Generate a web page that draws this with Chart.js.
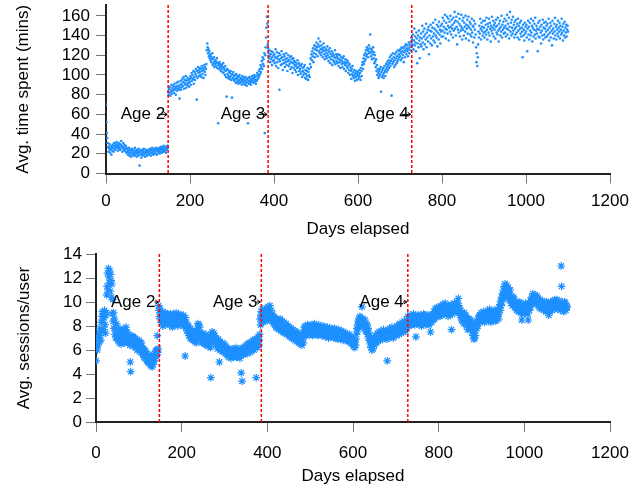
<!DOCTYPE html>
<html lang="en">
<head>
<meta charset="UTF-8" />
<title>Time spent and sessions by age</title>
<style>
  body { margin: 0; background: #fff; }
  .panel { width: 642px; height: 244px; }
  canvas { display: block; }
</style>
</head>
<body>
<div class="panel"><canvas id="timeChart" width="642" height="244"></canvas></div>
<div class="panel"><canvas id="sessionChart" width="642" height="244"></canvas></div>

<script src="https://cdn.jsdelivr.net/npm/chart.js"></script>
<script>
// one reading per day, day 0 .. day 1100 (25 days per row)
const dayStep = 1;

// avg. time spent (mins)
const timeSpent = [
  70,52,41,36,31,27,22,26,30,24,21,28,25,19,27,23,29,26,22,31,25,28,24,30,27,
  32,26,29,23,28,31,25,27,30,24,29,33,26,28,22,27,31,24,26,29,23,25,28,21,26,
  22,25,19,23,21,26,18,24,20,22,17,23,25,19,21,24,20,18,22,26,19,23,21,17,24,
  20,22,18,25,21,8,23,19,22,16,24,20,18,23,21,25,19,22,17,21,24,20,23,18,22,
  21,24,19,23,20,25,22,18,24,21,26,20,23,19,25,22,21,24,20,26,23,19,25,22,24,
  21,26,23,20,25,22,27,24,21,26,23,25,28,22,24,26,23,27,21,25,24,28,26,83,80,
  86,82,88,79,85,83,90,81,87,84,89,86,82,91,85,88,80,87,92,84,89,86,93,88,85,
  76,90,87,94,85,91,88,96,89,93,98,86,92,95,90,99,87,94,91,97,89,95,92,88,96,
  93,99,90,97,102,94,100,96,104,91,98,103,95,101,106,99,75,104,97,108,102,105,99,107,103,
  100,106,98,109,104,101,107,97,105,110,103,108,100,106,111,125,132,128,122,126,119,124,117,121,115,
  119,113,117,122,110,116,112,118,108,114,111,115,109,113,117,107,112,51,110,106,113,108,111,104,109,
  106,110,103,108,112,102,107,105,100,109,104,98,78,106,101,97,105,99,103,96,102,98,104,95,100,
  77,101,97,103,95,99,94,100,96,92,101,97,93,99,95,91,98,94,100,92,96,93,97,90,95,
  99,93,96,91,97,94,90,98,92,95,89,96,93,51,97,91,94,98,92,95,90,96,93,99,94,
  97,92,96,100,93,98,95,91,99,94,102,96,100,97,104,99,106,101,110,103,108,114,106,118,111,
  116,109,122,41,120,128,138,148,159,152,131,127,122,117,125,119,113,121,116,124,110,118,123,114,120,
  115,121,112,118,126,109,117,123,113,119,107,116,122,85,114,120,110,117,124,111,118,105,115,121,112,
  119,108,116,113,122,110,117,104,114,120,109,115,111,118,106,113,119,108,116,102,112,117,107,114,110,
  105,113,109,103,111,107,115,100,108,112,104,110,106,101,109,103,111,98,107,104,100,108,102,110,97,
  105,101,96,104,99,107,95,103,100,106,98,111,117,108,121,115,124,119,127,113,122,130,118,126,129,
  121,133,125,128,119,131,137,124,129,122,134,126,120,130,123,127,118,125,132,121,128,116,124,119,126,
  122,117,129,120,125,114,123,118,127,112,121,116,124,119,110,122,115,120,113,118,125,111,117,121,114,
  119,112,117,121,109,116,113,120,107,115,118,111,114,108,117,112,119,106,113,110,116,104,112,109,115,
  107,113,102,110,105,111,100,108,104,96,106,101,109,99,103,97,105,100,94,102,98,104,95,101,99,
  103,96,100,105,98,102,95,107,104,99,110,113,106,117,111,120,114,122,116,125,119,128,121,126,118,
  124,130,122,127,141,123,119,126,116,124,121,128,117,123,112,120,114,108,116,104,110,100,106,102,97,
  104,99,106,101,108,83,103,98,105,100,107,97,102,109,104,99,106,111,103,108,113,105,110,115,107,
  112,118,109,114,120,79,116,111,122,113,118,108,115,121,110,117,123,112,119,114,125,116,121,118,124,
  119,126,115,122,128,117,124,120,127,113,123,129,118,125,131,121,127,124,130,119,126,133,122,128,131,
  125,134,138,129,136,131,141,126,135,147,130,139,133,124,143,137,112,132,140,128,145,135,117,138,131,
  142,129,137,150,133,144,126,139,147,131,141,136,152,128,143,138,146,134,149,121,140,145,132,151,137,
  144,130,148,139,153,135,142,147,133,156,140,145,138,151,129,143,149,136,154,141,146,132,150,144,139,
  152,145,158,139,149,155,143,161,147,137,153,146,159,142,150,157,135,148,154,144,160,149,141,156,147,
  151,138,158,145,153,164,147,155,140,159,149,131,154,146,162,143,152,157,139,150,145,161,148,136,155,
  146,158,140,153,149,144,160,137,151,147,156,142,150,159,135,148,154,141,152,146,139,157,143,150,133,
  149,155,138,146,152,141,128,113,122,109,118,131,144,138,150,142,157,147,136,153,145,149,140,155,143,
  148,138,155,144,151,141,158,146,136,152,149,143,157,140,153,147,134,150,145,159,142,148,155,139,151,
  146,153,137,149,156,143,150,141,158,145,134,152,147,155,140,149,144,160,138,151,146,154,142,148,157,
  143,150,139,155,147,161,141,152,146,158,137,149,164,144,153,140,156,148,142,159,145,151,138,154,147,
  141,156,149,143,152,138,157,145,150,136,153,147,142,155,139,148,144,118,151,140,146,135,153,142,149,
  144,151,138,124,147,155,141,149,136,153,145,140,157,143,150,134,148,155,139,146,152,141,158,137,145,
  150,142,147,124,153,139,146,155,138,149,143,132,151,145,140,156,136,148,153,141,147,138,154,144,150,
  139,152,146,141,157,135,148,143,153,138,150,145,130,155,142,147,137,152,144,158,140,149,136,151,146,
  142,155,139,148,144,153,137,150,146,141,157,143,149,135,152,145,140,154,138,148,143,151,139,146,150,
  144
];

// avg. sessions per user
const sessions = [
  5.1,6.2,6.6,6.0,7.1,6.4,6.9,7.4,6.7,7.8,7.2,6.8,8.3,7.5,8.8,9.2,8.5,9.0,7.7,8.7,9.3,8.1,7.4,8.9,9.1,
  10.6,11.3,12.4,11.0,12.8,12.1,11.6,12.6,10.9,12.3,11.8,10.4,11.5,9.0,10.2,8.4,9.1,7.8,8.6,7.3,7.9,7.0,7.6,8.2,7.1,
  7.5,6.8,7.3,7.0,6.6,7.4,7.8,6.9,7.2,6.5,7.6,7.0,6.7,7.3,6.9,7.7,7.1,6.6,7.4,6.8,7.9,7.2,6.7,7.5,7.0,
  6.6,7.3,6.9,7.1,6.4,5.0,4.2,7.0,6.6,7.2,6.8,6.3,7.1,6.7,6.4,7.0,6.5,6.9,6.2,6.8,6.4,6.0,6.7,6.3,6.6,
  6.2,6.8,6.0,6.5,5.8,6.3,6.6,5.9,6.2,5.6,6.1,5.8,5.4,6.0,5.7,5.3,5.9,5.5,5.1,5.7,5.4,5.0,5.6,5.2,4.9,
  5.4,5.1,4.7,5.3,4.9,5.5,4.6,5.2,5.0,4.8,5.4,5.1,5.7,5.3,5.9,5.5,6.0,5.6,7.2,5.8,6.1,9.7,9.3,8.8,9.5,
  8.6,9.1,8.3,8.9,8.5,9.2,8.0,8.7,9.0,8.4,8.8,8.1,9.1,8.6,8.3,8.9,8.5,9.0,8.2,8.7,8.4,8.9,8.1,8.6,9.0,
  8.3,8.8,8.5,7.9,8.6,9.0,8.2,8.7,8.4,8.9,8.1,8.6,9.1,8.3,8.8,8.5,8.0,8.7,9.0,8.4,8.6,8.2,8.9,8.5,8.3,
  8.8,8.1,8.6,8.4,8.9,8.0,8.5,8.2,5.5,8.7,7.9,8.3,7.6,8.1,7.8,7.4,8.0,7.2,7.7,7.5,7.0,7.8,7.3,6.9,7.6,
  7.1,7.5,6.8,7.3,7.0,6.7,7.4,6.9,7.2,6.6,7.5,7.0,7.8,8.2,7.6,8.1,7.4,7.9,7.0,7.3,6.8,7.2,6.6,7.0,7.4,
  6.9,6.6,7.2,6.8,6.5,7.1,6.7,7.3,6.4,6.9,7.0,6.6,6.3,6.8,7.2,6.5,6.9,6.2,3.7,6.7,7.1,7.5,6.8,7.3,7.0,
  7.4,6.9,7.2,6.6,7.0,6.5,6.9,6.3,6.7,6.1,6.6,6.9,6.4,5.0,6.2,6.7,6.0,6.5,6.3,5.9,6.6,6.1,6.4,5.8,6.2,
  6.5,6.0,5.7,6.3,5.9,6.2,5.6,6.0,5.8,5.4,6.1,5.7,5.5,6.0,5.8,5.3,5.9,5.6,6.1,5.5,5.8,5.4,6.0,5.7,5.5,
  5.9,5.6,6.2,5.4,5.8,6.0,5.5,5.9,5.7,6.1,5.6,5.3,5.8,6.0,4.1,5.7,3.4,5.9,6.2,5.6,6.0,5.8,6.3,5.7,6.1,
  5.8,6.4,6.0,5.7,6.2,6.5,5.9,6.3,6.6,6.0,6.4,5.8,6.2,6.7,6.1,6.5,6.8,6.2,6.6,6.0,6.4,6.9,6.3,6.7,3.7,
  6.5,6.9,6.2,6.7,7.1,6.4,6.8,7.3,8.6,8.1,8.9,9.2,8.5,9.4,8.8,9.1,8.3,8.7,9.3,8.6,9.0,8.4,8.9,9.5,8.7,
  9.2,8.6,9.6,9.0,9.4,8.8,9.7,9.1,8.5,9.3,8.9,8.4,9.0,8.6,8.2,8.8,8.3,8.7,8.1,8.5,7.9,8.6,8.2,7.8,8.4,
  8.0,8.5,7.7,8.3,7.9,8.6,8.1,7.6,8.2,7.8,8.4,7.5,8.0,7.7,8.3,7.4,7.9,8.1,7.6,8.2,7.3,7.8,7.5,8.0,7.2,
  7.7,7.4,7.9,7.1,7.6,7.3,7.8,7.0,7.5,7.2,7.7,6.9,7.4,7.1,7.6,6.8,7.3,7.0,7.5,6.7,7.2,6.9,7.4,6.6,7.1,
  6.8,7.3,6.5,7.0,6.7,7.2,6.4,6.9,7.1,6.6,7.5,7.9,7.3,7.7,8.0,7.4,7.8,7.2,7.6,8.1,7.5,7.9,7.3,7.7,8.0,
  7.4,7.8,8.1,7.5,7.9,7.2,7.7,8.0,7.4,7.8,8.2,7.5,7.9,7.3,7.7,8.0,7.4,7.8,7.2,7.6,8.1,7.5,7.9,7.3,7.7,
  7.9,7.4,7.8,7.2,7.6,8.0,7.3,7.7,7.5,7.9,7.1,7.6,7.8,7.2,7.6,7.9,7.3,7.7,7.0,7.5,7.8,7.2,7.6,7.4,7.8,
  7.1,7.5,7.7,7.2,7.6,7.0,7.4,7.8,7.1,7.5,7.3,7.7,7.0,7.4,7.6,6.9,7.3,7.7,7.1,7.5,7.2,6.9,7.4,7.6,7.0,
  7.4,7.2,6.8,7.5,7.1,7.3,6.9,7.4,7.0,7.2,6.8,7.3,7.1,6.7,7.2,7.0,6.9,7.3,6.8,7.1,6.6,7.0,6.8,6.5,6.9,
  6.6,6.3,6.8,6.5,6.2,6.7,6.4,6.9,7.3,7.8,7.5,8.1,8.4,7.9,8.6,8.2,8.8,8.3,8.7,8.0,8.5,9.6,8.2,8.6,7.9,
  8.4,8.1,7.8,8.5,7.6,8.2,7.9,7.5,8.1,7.3,7.8,7.0,7.5,6.8,7.2,6.5,6.9,6.2,6.7,6.0,6.5,6.8,6.1,6.6,7.0,
  6.4,6.9,7.2,6.7,7.1,6.6,7.0,7.4,6.8,7.2,6.9,7.5,7.0,7.3,6.8,7.2,7.6,7.0,7.4,6.9,7.3,7.7,7.1,7.5,7.0,
  7.4,7.1,7.6,7.2,6.9,5.1,7.3,7.7,7.0,7.5,7.2,7.8,7.3,7.1,7.6,7.4,7.9,7.2,7.6,7.0,7.5,7.8,7.3,7.7,7.4,
  7.8,7.2,7.6,8.0,7.4,7.9,7.5,8.1,7.3,7.7,8.2,7.6,8.0,7.4,7.9,8.3,7.7,8.1,7.5,8.0,8.4,7.8,8.2,7.6,8.1,
  8.5,7.9,8.3,8.8,8.2,8.6,8.0,8.4,8.9,8.3,8.7,8.1,8.5,8.8,8.2,8.6,9.0,8.4,8.7,8.1,8.5,8.9,7.1,8.3,8.7,
  8.2,8.6,8.9,8.4,8.8,8.1,8.5,8.9,8.3,8.7,8.0,8.4,8.8,8.2,8.6,9.0,8.5,8.9,8.3,8.7,8.1,8.5,8.8,8.2,8.6,
  8.9,8.4,8.7,8.1,8.5,8.8,7.5,8.6,8.9,8.3,8.7,9.0,8.5,8.8,9.2,8.6,9.0,9.4,8.7,9.1,9.5,8.9,9.3,8.8,9.2,
  9.6,9.0,9.4,8.8,9.3,9.7,9.1,9.5,8.9,9.3,9.8,9.2,9.6,9.0,9.4,9.9,9.3,9.7,9.1,9.5,9.0,9.4,8.8,9.3,9.7,
  9.1,9.5,8.9,9.3,9.8,7.7,9.4,9.0,9.6,9.2,9.7,9.3,9.9,9.4,9.8,9.2,9.6,10.0,9.5,9.9,9.3,10.3,9.7,9.1,9.5,
  8.9,9.3,8.7,9.1,8.5,9.0,8.4,8.8,8.2,8.7,9.1,8.5,8.9,8.3,8.8,8.0,8.6,8.2,7.7,8.5,8.1,8.6,7.9,8.4,8.0,
  8.5,7.8,8.3,7.5,8.0,7.2,7.7,6.9,7.4,7.0,7.6,7.2,7.9,8.2,7.8,8.4,8.0,8.6,8.2,8.8,8.4,8.9,8.5,8.7,9.1,
  8.6,9.0,8.4,8.8,9.2,8.5,8.9,8.3,8.7,9.1,8.6,9.0,8.4,8.8,9.3,8.7,9.1,8.5,8.9,9.4,8.6,9.0,8.3,8.8,9.2,
  8.7,9.1,8.5,8.9,9.3,8.6,9.0,8.4,8.8,9.2,8.5,8.9,9.4,8.8,9.2,8.6,9.0,9.5,9.8,9.3,10.1,9.7,10.4,10.0,10.7,
  10.3,11.0,10.6,11.3,10.8,11.5,10.4,11.1,10.7,11.4,10.9,10.5,11.2,10.6,10.2,10.8,10.4,11.0,10.3,9.9,10.5,10.1,9.7,10.3,9.9,
  10.4,9.8,10.2,9.6,10.0,9.5,9.9,9.3,9.7,9.4,9.8,9.2,9.6,10.0,9.4,9.9,9.3,9.7,9.1,8.5,9.5,9.0,9.4,9.8,9.2,
  9.6,9.1,9.5,9.9,9.3,9.7,9.2,9.6,9.0,8.5,9.4,9.8,9.3,9.7,10.1,9.6,10.0,10.4,9.9,10.3,10.7,10.1,10.5,9.9,10.3,
  10.6,10.0,10.4,9.8,10.2,10.5,9.9,10.3,9.7,10.1,9.5,9.9,10.2,9.6,10.0,9.4,9.8,10.1,9.5,9.9,9.3,9.7,10.0,9.4,9.8,
  9.2,9.6,10.0,9.5,9.9,9.3,9.7,8.9,9.4,9.8,9.2,9.6,10.0,9.5,9.9,9.3,9.7,10.1,9.6,9.4,9.8,10.2,9.6,9.9,9.5,
  9.8,10.2,9.6,10.0,9.4,9.8,10.1,9.5,9.9,9.3,9.7,13.0,11.3,9.6,10.0,9.4,9.8,9.2,9.6,10.0,9.5,9.9,9.3,9.7,9.5,
  9.6
];

const ageDays = [148, 386, 728];
const ageNames = ["Age 2", "Age 3", "Age 4"];

const xTicks = [0, 200, 400, 600, 800, 1000, 1200];
const timeTicks = [0, 20, 40, 60, 80, 100, 120, 140, 160];
const sessionTicks = [0, 2, 4, 6, 8, 10, 12, 14];

const family = '"Liberation Sans", Arial, Helvetica, sans-serif';
const blue = "#1E90FF";

function toPoints(values) {
  return values.map(function (v, i) {
    return { x: i * dayStep, y: v };
  });
}

// red dashed lines at each age change, with a label and a little arrow
const ageMarkers = {
  id: "ageMarkers",
  afterDatasetsDraw(chart, args, opts) {
    const ctx = chart.ctx;
    const area = chart.chartArea;
    const x = chart.scales.x;
    const y = chart.scales.y;
    const py = y.getPixelForValue(opts.labelY);

    ctx.save();
    for (let i = 0; i < ageDays.length; i++) {
      const px = x.getPixelForValue(ageDays[i]);

      ctx.strokeStyle = "#f00";
      ctx.lineWidth = 1.5;
      ctx.setLineDash([3, 2]);
      ctx.beginPath();
      ctx.moveTo(px, area.top);
      ctx.lineTo(px, area.bottom);
      ctx.stroke();

      ctx.setLineDash([]);
      ctx.fillStyle = "#000";
      ctx.font = opts.fontSize + "px " + family;
      ctx.textAlign = "right";
      ctx.textBaseline = "middle";
      ctx.fillText(ageNames[i], px - opts.textGap, py);

      ctx.strokeStyle = "#000";
      ctx.lineWidth = 1;
      ctx.beginPath();
      ctx.moveTo(px - opts.arrowLen, py);
      ctx.lineTo(px - 1, py);
      ctx.moveTo(px - 4, py - 2);
      ctx.lineTo(px - 1, py);
      ctx.lineTo(px - 4, py + 2);
      ctx.stroke();
    }
    ctx.restore();
  },
};

function plainNumber(v) {
  return String(v);
}

function makeChart(id, cfg) {
  const config = {
    type: "scatter",
    data: {
      datasets: [
        Object.assign({ data: toPoints(cfg.values), showLine: false }, cfg.marker),
      ],
    },
    options: {
      responsive: false,
      animation: false,
      devicePixelRatio: 1,
      events: [],
      layout: { padding: { top: cfg.padTop, right: 32, bottom: 0, left: 0 } },
      plugins: {
        legend: { display: false },
        tooltip: { enabled: false },
        ageMarkers: {
          labelY: cfg.labelY,
          textGap: cfg.textGap,
          arrowLen: cfg.arrowLen,
          fontSize: 17,
        },
      },
      scales: {
        x: {
          type: "linear",
          min: 0,
          max: 1200,
          afterBuildTicks: function (s) {
            s.ticks = xTicks.map(function (v) { return { value: v }; });
          },
          afterFit: function (s) {
            s.height = cfg.xHeight;
            s.paddingLeft = 0;
            s.paddingRight = 0;
          },
          border: { color: "#222", width: 2 },
          grid: { drawOnChartArea: false, tickLength: 10, tickColor: "#777", tickWidth: 1 },
          ticks: {
            color: "#000",
            autoSkip: false,
            maxRotation: 0,
            padding: cfg.xTickPad,
            callback: plainNumber,
            font: { family: family, size: 17 },
          },
          title: {
            display: true,
            text: "Days elapsed",
            color: "#000",
            font: { family: family, size: 17 },
            padding: { top: 0, bottom: cfg.xTitlePad },
          },
        },
        y: {
          type: "linear",
          min: 0,
          max: cfg.yMax,
          afterBuildTicks: function (s) {
            s.ticks = cfg.yTicks.map(function (v) { return { value: v }; });
          },
          afterFit: function (s) {
            s.width = cfg.yWidth;
            s.paddingTop = 0;
            s.paddingBottom = 0;
          },
          border: { color: "#222", width: 2 },
          grid: { drawOnChartArea: false, tickLength: 10, tickColor: "#777", tickWidth: 1 },
          ticks: {
            color: "#000",
            autoSkip: false,
            padding: cfg.yTickPad,
            callback: plainNumber,
            font: { family: family, size: 17 },
          },
          title: {
            display: true,
            text: cfg.yTitle,
            color: "#000",
            font: { family: family, size: 17 },
            padding: { top: cfg.yTitlePad, bottom: 0 },
          },
        },
      },
    },
    plugins: [ageMarkers],
  };
  return new Chart(document.getElementById(id), config);
}

makeChart("timeChart", {
  values: timeSpent,
  marker: { pointStyle: "circle", pointRadius: 1.3, pointBorderWidth: 0, backgroundColor: blue, borderColor: blue },
  yTitle: "Avg. time spent (mins)",
  yMax: 171,
  yTicks: timeTicks,
  yWidth: 106,
  padTop: 5,
  xHeight: 70.5,
  xTickPad: 8,
  xTitlePad: 4,
  yTickPad: 6,
  yTitlePad: 13,
  labelY: 60,
  textGap: 3,
  arrowLen: 10,
});

makeChart("sessionChart", {
  values: sessions,
  marker: { pointStyle: "star", pointRadius: 3.9, pointBorderWidth: 1.2, backgroundColor: blue, borderColor: blue },
  yTitle: "Avg. sessions/user",
  yMax: 14,
  yTicks: sessionTicks,
  yWidth: 96,
  padTop: 10,
  xHeight: 66,
  xTickPad: 11,
  xTitlePad: 1,
  yTickPad: 4,
  yTitlePad: 14,
  labelY: 10,
  textGap: 4,
  arrowLen: 5,
});
</script>
</body>
</html>
